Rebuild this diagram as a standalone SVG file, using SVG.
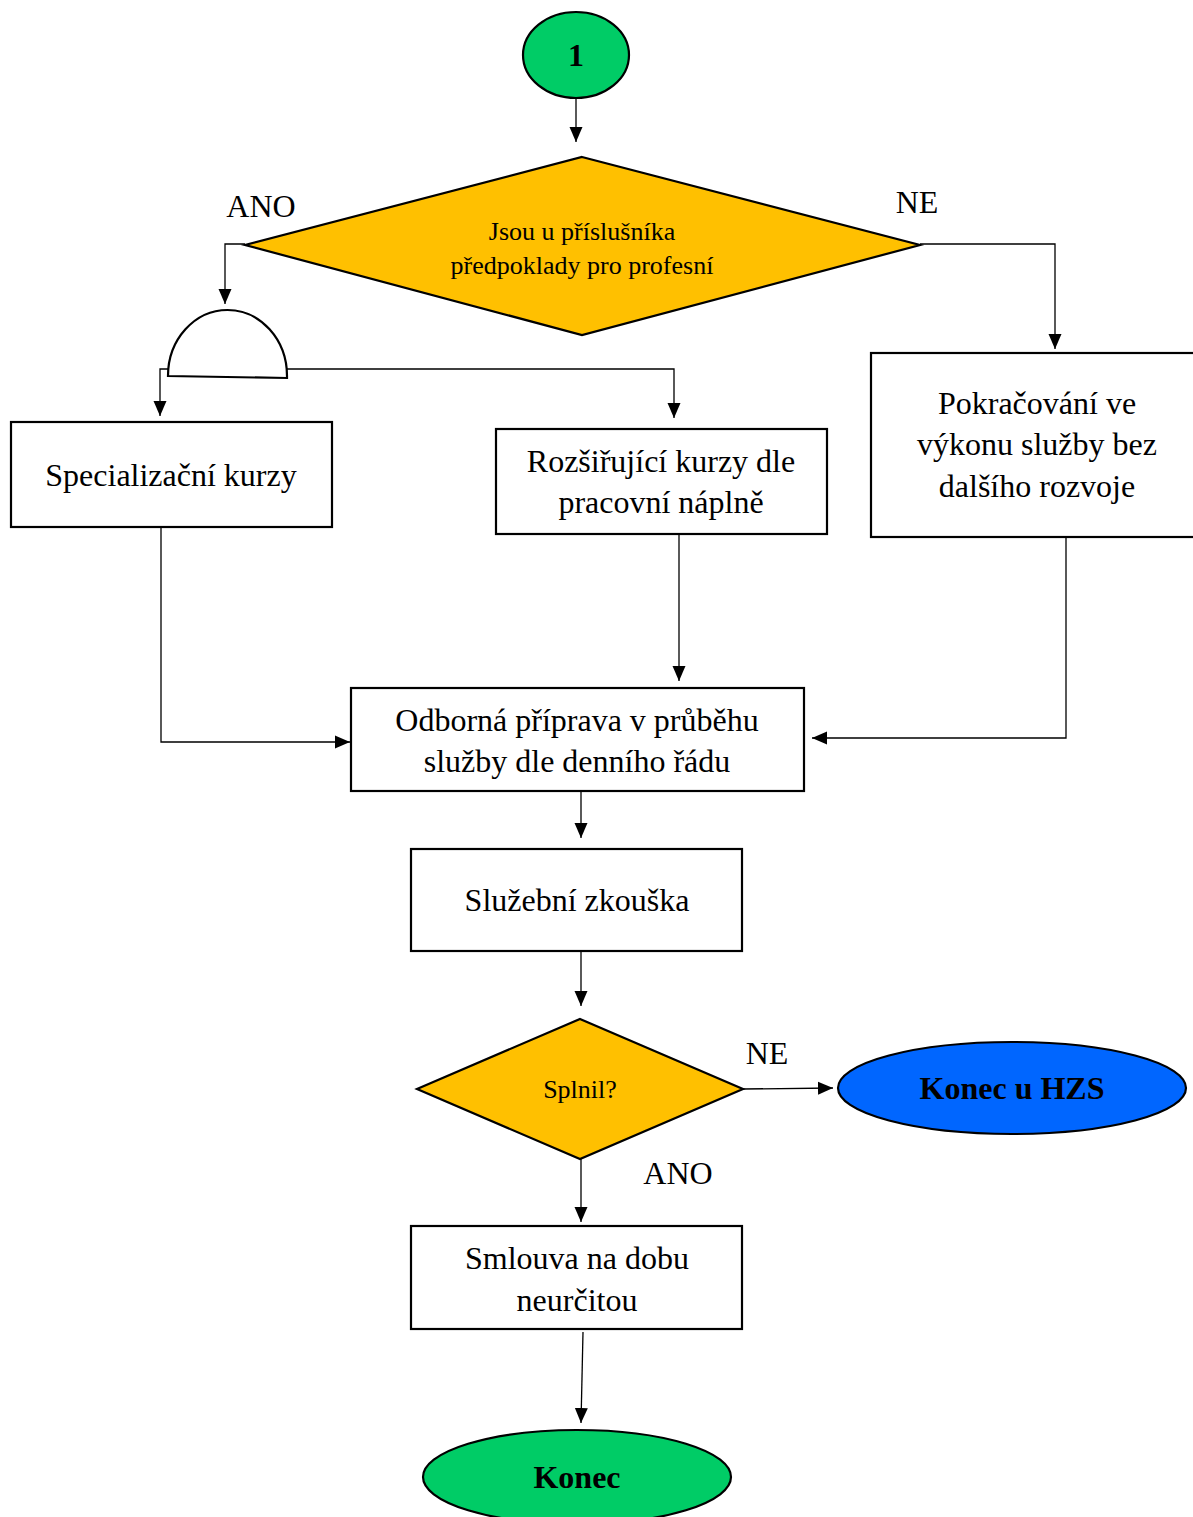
<svg xmlns="http://www.w3.org/2000/svg" width="1193" height="1517" viewBox="0 0 1193 1517">
<style>
.box{fill:#fff;stroke:#000;stroke-width:2.2}
.dia{fill:#FFC000;stroke:#000;stroke-width:2.2}
.t{font-family:"Liberation Serif","Times New Roman",serif;fill:#000;text-anchor:middle}
.big{font-size:32px}
.mid{font-size:26px}
.bold{font-weight:bold;font-size:32px}
.con{fill:none;stroke:#000;stroke-width:1.3}
</style>
<defs>
<marker id="arr" markerUnits="userSpaceOnUse" markerWidth="16" markerHeight="16" viewBox="0 0 16 16" refX="15" refY="8" orient="auto">
<path d="M0,1.5 L15,8 L0,14.5 Z" fill="#000"/>
</marker>
</defs>
<rect width="1193" height="1517" fill="#fff"/>
<g id="connectors">
<path class="con" d="M576,98 V142" marker-end="url(#arr)"/>
<path class="con" d="M245,244 H225 V304" marker-end="url(#arr)"/>
<path class="con" d="M920,244 H1055 V349" marker-end="url(#arr)"/>
<path class="con" d="M168,369 H160 V416" marker-end="url(#arr)"/>
<path class="con" d="M287,369 H674 V418" marker-end="url(#arr)"/>
<path class="con" d="M161,527 V742 H350" marker-end="url(#arr)"/>
<path class="con" d="M679,534 V681" marker-end="url(#arr)"/>
<path class="con" d="M1066,537 V738 H812" marker-end="url(#arr)"/>
<path class="con" d="M581,791 V838" marker-end="url(#arr)"/>
<path class="con" d="M581,951 V1006" marker-end="url(#arr)"/>
<path class="con" d="M743,1089 L833,1088" marker-end="url(#arr)"/>
<path class="con" d="M581,1159 V1222" marker-end="url(#arr)"/>
<path class="con" d="M583,1332 L581,1423" marker-end="url(#arr)"/>
</g>
<g id="start">
<ellipse cx="576" cy="55" rx="53" ry="43" fill="#00CC66" stroke="#000" stroke-width="2.2"/>
<text class="t bold" x="576" y="66">1</text>
</g>
<g id="decision1">
<polygon class="dia" points="582,157 920,245 582,335 245,245"/>
<text class="t mid" x="582" y="240">Jsou u příslušníka</text>
<text class="t mid" x="582" y="274">předpoklady pro profesní</text>
</g>
<text class="t big" x="261" y="217">ANO</text>
<text class="t big" x="917" y="213">NE</text>
<g id="join">
<path d="M168,376 A59.5,66 0 0 1 287,376 V378 L168,376 Z" fill="#fff" stroke="#000" stroke-width="2.2"/>
</g>
<g id="spec">
<rect class="box" x="11" y="422" width="321" height="105"/>
<text class="t big" x="171" y="486">Specializační kurzy</text>
</g>
<g id="rozs">
<rect class="box" x="496" y="429" width="331" height="105"/>
<text class="t big" x="661" y="472">Rozšiřující kurzy dle</text>
<text class="t big" x="661" y="513">pracovní náplně</text>
</g>
<g id="pokr">
<rect class="box" x="871" y="353" width="330" height="184"/>
<text class="t big" x="1037" y="414">Pokračování ve</text>
<text class="t big" x="1037" y="455">výkonu služby bez</text>
<text class="t big" x="1037" y="497">dalšího rozvoje</text>
</g>
<g id="odb">
<rect class="box" x="351" y="688" width="453" height="103"/>
<text class="t big" x="577" y="731">Odborná příprava v průběhu</text>
<text class="t big" x="577" y="772">služby dle denního řádu</text>
</g>
<g id="zkouska">
<rect class="box" x="411" y="849" width="331" height="102"/>
<text class="t big" x="577" y="911">Služební zkouška</text>
</g>
<g id="decision2">
<polygon class="dia" points="580,1019 743,1089 580,1159 417,1089"/>
<text class="t mid" x="580" y="1098">Splnil?</text>
</g>
<text class="t big" x="767" y="1064">NE</text>
<text class="t big" x="678" y="1184">ANO</text>
<g id="hzs">
<ellipse cx="1012" cy="1088" rx="174" ry="46" fill="#0066FF" stroke="#000" stroke-width="2.2"/>
<text class="t bold" x="1012" y="1099">Konec u HZS</text>
</g>
<g id="smlouva">
<rect class="box" x="411" y="1226" width="331" height="103"/>
<text class="t big" x="577" y="1269">Smlouva na dobu</text>
<text class="t big" x="577" y="1311">neurčitou</text>
</g>
<g id="konec">
<ellipse cx="577" cy="1477" rx="154" ry="47" fill="#00CC66" stroke="#000" stroke-width="2.2"/>
<text class="t bold" x="577" y="1488">Konec</text>
</g>
</svg>
